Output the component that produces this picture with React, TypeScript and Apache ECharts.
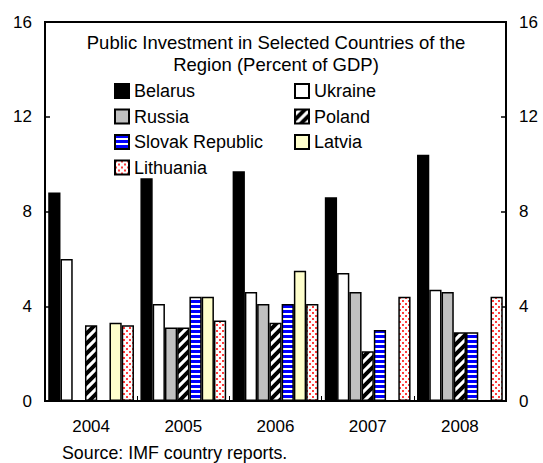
import React, { useEffect, useRef } from "react";
import * as echarts from "echarts";

const categories = ["2004", "2005", "2006", "2007", "2008"];
const seriesNames = ["Belarus", "Ukraine", "Russia", "Poland", "Slovak Republic", "Latvia", "Lithuania"];
const belarus = [8.8, 9.4, 9.7, 8.6, 10.4];
const ukraine = [6.0, 4.1, 4.6, 5.4, 4.7];
const russia = [null, 3.1, 4.1, 4.6, 4.6];
const poland = [3.2, 3.1, 3.3, 2.1, 2.9];
const slovak = [null, 4.4, 4.1, 3.0, 2.9];
const latvia = [3.3, 4.4, 5.5, null, null];
const lithuania = [3.2, 3.4, 4.1, 4.4, 4.4];
const yTicks = [0, 4, 8, 12, 16];
const titleText = "Public Investment in Selected Countries of the\nRegion (Percent of GDP)";
const sourceText = "Source: IMF country reports.";

const FONT = "'Liberation Sans', Arial, sans-serif";

function makeCanvas(w: number, h: number, draw: (ctx: CanvasRenderingContext2D) => void) {
  const c = document.createElement("canvas");
  c.width = w;
  c.height = h;
  const ctx = c.getContext("2d")!;
  draw(ctx);
  return { image: c, repeat: "repeat", imageWidth: w, imageHeight: h } as any;
}

export default function App() {
  const ref = useRef<HTMLDivElement>(null);
  useEffect(() => {
    if (!ref.current) return;
    const chart = echarts.init(ref.current, undefined, { renderer: "svg" });

    const polandPattern = makeCanvas(10, 10, (ctx) => {
      ctx.fillStyle = "#ffffff";
      ctx.fillRect(0, 0, 10, 10);
      ctx.strokeStyle = "#000000";
      ctx.lineWidth = 4;
      ctx.lineCap = "square";
      const segs = [
        [-5, 5, 5, -5],
        [0, 10, 10, 0],
        [5, 15, 15, 5],
      ];
      segs.forEach(([a, b, c, d]) => {
        ctx.beginPath();
        ctx.moveTo(a, b);
        ctx.lineTo(c, d);
        ctx.stroke();
      });
    });
    const slovakPattern = makeCanvas(4, 5, (ctx) => {
      ctx.fillStyle = "#ffffff";
      ctx.fillRect(0, 0, 4, 5);
      ctx.fillStyle = "#0000ff";
      ctx.fillRect(0, 0, 4, 3);
    });
    const lithPattern = makeCanvas(6, 6, (ctx) => {
      ctx.fillStyle = "#ffffff";
      ctx.fillRect(0, 0, 6, 6);
      ctx.fillStyle = "#ff3b3b";
      ctx.fillRect(0, 0, 2, 2);
      ctx.fillRect(3, 3, 2, 2);
    });

    const fills: any[] = ["#000000", "#ffffff", "#c0c0c0", polandPattern, slovakPattern, "#ffffcc", lithPattern];
    const dataArr = [belarus, ukraine, russia, poland, slovak, latvia, lithuania];

    const series = seriesNames.map((name, i) => ({
      name,
      type: "bar",
      yAxisIndex: 0,
      barGap: "0%",
      barCategoryGap: "7%",
      data: dataArr[i].map((v) => (v == null ? "-" : v)),
      itemStyle: { color: fills[i], borderColor: "#000000", borderWidth: 1.5 },
      emphasis: { disabled: true },
    }));

    const yAxisCommon = {
      type: "value",
      min: yTicks[0],
      max: yTicks[yTicks.length - 1],
      interval: yTicks[1] - yTicks[0],
      splitLine: { show: false },
      axisLine: { show: true, lineStyle: { color: "#000", width: 2 } },
      axisTick: { show: true, inside: true, length: 5, lineStyle: { color: "#000", width: 1.5 } },
      axisLabel: { color: "#000", fontSize: 17, fontFamily: FONT, margin: 13 },
    };

    const legendCommon = {
      orient: "vertical",
      top: 82,
      padding: 0,
      icon: "rect",
      itemWidth: 14,
      itemHeight: 14,
      itemGap: 7.5,
      selectedMode: false,
      textStyle: { fontSize: 18, color: "#000", fontFamily: FONT },
    };

    chart.setOption({
      animation: false,
      title: {
        text: titleText,
        left: 276,
        top: 31,
        padding: 0,
        textAlign: "center",
        textStyle: { fontSize: 18.5, fontWeight: "normal", color: "#000", fontFamily: FONT, lineHeight: 22.5 },
      },
      legend: [
        { ...legendCommon, data: ["Belarus", "Russia", "Slovak Republic", "Lithuania"], left: 114 },
        { ...legendCommon, data: ["Ukraine", "Poland", "Latvia"], left: 294 },
      ],
      grid: {
        left: 45,
        right: 37,
        top: 22,
        bottom: 62,
        show: true,
        borderColor: "#000",
        borderWidth: 2,
        backgroundColor: "transparent",
      },
      xAxis: {
        type: "category",
        data: categories,
        axisLine: { show: true, lineStyle: { color: "#000", width: 2 } },
        axisTick: { show: true, inside: true, length: 5, lineStyle: { color: "#000", width: 1 } },
        axisLabel: { color: "#000", fontSize: 17, fontFamily: FONT, margin: 17 },
        splitLine: { show: false },
      },
      yAxis: [
        { ...yAxisCommon, position: "left" },
        { ...yAxisCommon, position: "right" },
      ],
      graphic: [
        {
          type: "text",
          left: 62,
          top: 444,
          style: { text: sourceText, fill: "#000", font: `17.8px ${FONT}` },
        },
      ],
      series,
    } as any);

    return () => chart.dispose();
  }, []);

  return (
    <div
      ref={ref}
      style={{ position: "fixed", left: 0, top: 0, width: 543, height: 463, background: "#fff" }}
    />
  );
}
